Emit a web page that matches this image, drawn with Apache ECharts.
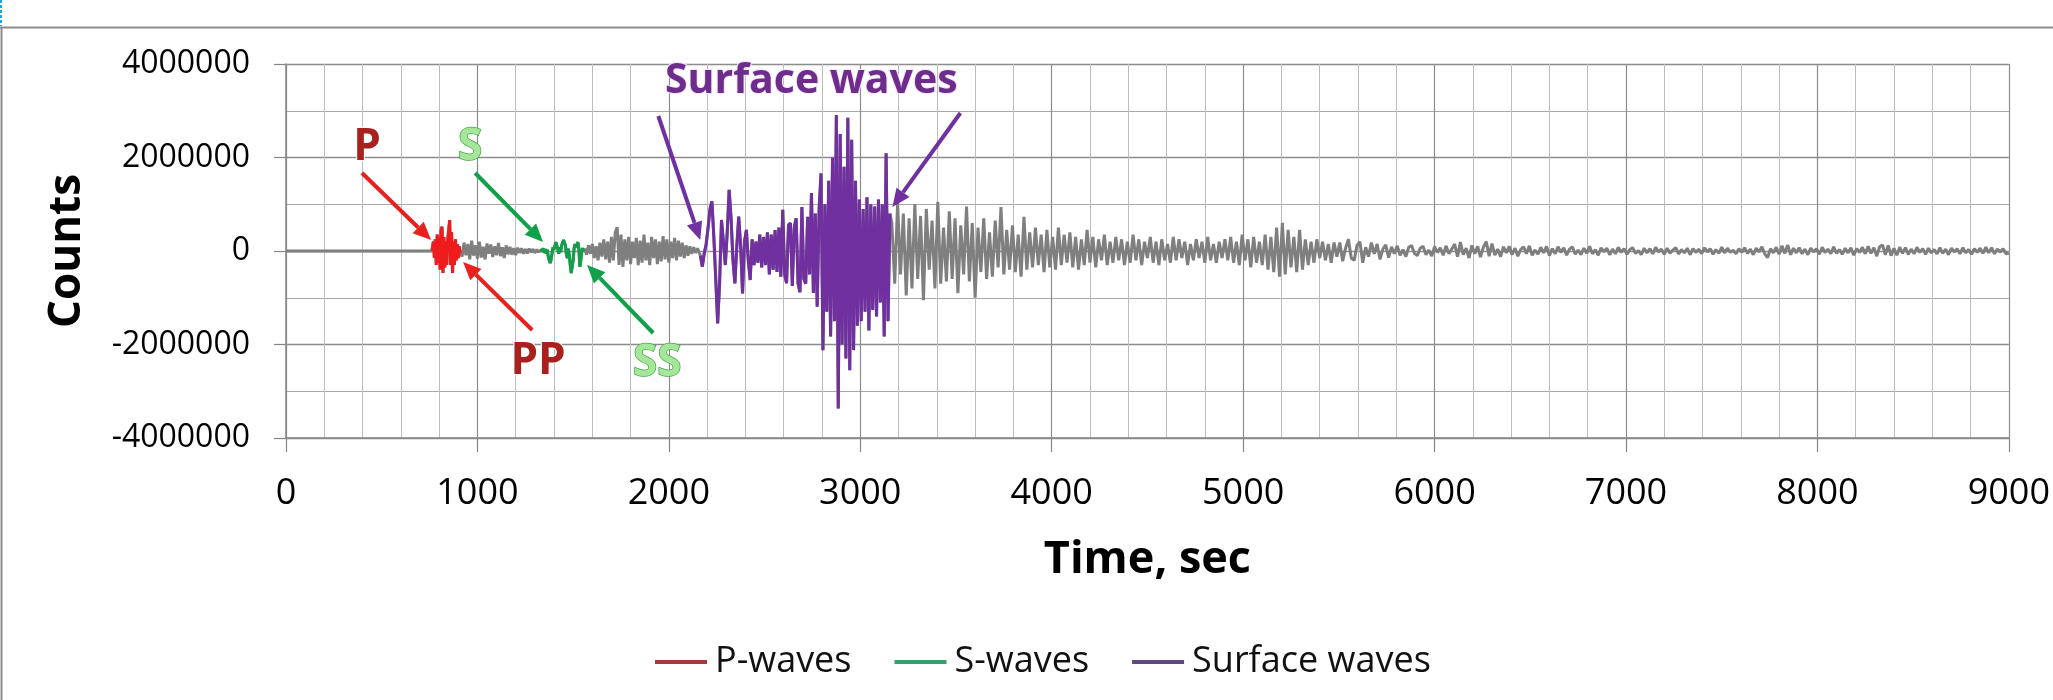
<!DOCTYPE html>
<html><head><meta charset="utf-8">
<script src="https://cdn.jsdelivr.net/npm/echarts@6/dist/echarts.min.js"></script>
<style>html,body{margin:0;padding:0;background:#fff}#chart{width:2053px;height:700px}</style>
</head><body><div id="chart"></div>
<script>
// ---------- axis ----------
const xAxisMin = 0, xAxisMax = 9000, xAxisInterval = 1000;
const yAxisMin = -4000000, yAxisMax = 4000000, yAxisInterval = 2000000;

// ---------- seismogram samples (time in s: start + i*step, value in counts) ----------
const preEventStart = 0, preEventStep = 760;
const preEventCounts = [0, 0];

const pWaveStart = 765, pWaveStep = 5;
const pWaveCounts = [0, 200000, -150000, 250000, -300000, 350000, -250000, 300000, -400000, 450000,
  520000, -470000, 300000, -350000, 200000, -300000, 250000, 450000, 660000, -300000,
  400000, -470000, 200000, -300000, 250000, -200000, 150000, -150000, 100000, -50000];

const gapPSStart = 920, gapPSStep = 10;
const gapPSCounts = [-120000, 180000, -90000, 150000, -180000, 220000, -100000, 120000, -160000, 200000,
  -140000, 90000, -180000, 160000, -60000, 140000, -130000, 100000, -90000, 170000,
  -110000, 80000, -150000, 120000, -70000, 90000, -80000, 60000, -90000, 70000,
  -40000, 60000, -60000, 40000, -50000, 50000, -30000, 40000, -40000, 30000, -20000];

const sWaveStart = 1330, sWaveStep = 5;
const sWaveCounts = [0, 30000, -20000, 50000, -40000, 40000, -60000, 30000, -120000, -200000,
  -257000, -180000, -50000, 80000, 30000, 120000, 190000, 150000, 40000, -60000,
  80000, -20000, 120000, 180000, 235000, 200000, 120000, -80000, -150000, 50000,
  -100000, -300000, -470000, -430000, -200000, 60000, 150000, 80000, 120000, 190000,
  50000, -340000, -200000, -20000, 60000, 0];

const gapSSurfStart = 1560, gapSSurfStep = 10;
const gapSSurfCounts = [50000, -80000, 120000, -60000, 150000, -150000, 100000, -200000, 180000, -120000,
  250000, -180000, 200000, -250000, 300000, -200000, 400000, 510000, -300000, 350000,
  -340000, 250000, -200000, 300000, -280000, 200000, -150000, 280000, -300000, 220000,
  -250000, 350000, -200000, 180000, -300000, 300000, -150000, 250000, -280000, 200000,
  -220000, 320000, -180000, 250000, -250000, 200000, -150000, 280000, -200000, 220000,
  -120000, 180000, -150000, 120000, -100000, 100000, -60000, 80000, -40000, 60000, -50000];

const surfaceStart = 2165, surfaceStep = 10;
const surfaceCounts = [-100000, -335000, -50000, 150000, 500000, 900000, 1060000, 300000, -600000, -1550000,
  -700000, 664000, 200000, -300000, 400000, 1310000, 700000, -200000, -692000, 100000,
  735000, 100000, -906000, 200000, 450000, -200000, -621000, 250000, -300000, 200000,
  -250000, 350000, -350000, 300000, -300000, 400000, -500000, 350000, -400000, 450000,
  -450000, 500000, -550000, 880000, -500000, -690000, 550000, 600000, -750000, 500000,
  700000, -700000, -880000, 940000, -600000, -700000, 730000, -500000, 1240000, -900000,
  800000, -1190000, 900000, 1660000, -2120000, 1000000, -1300000, 1500000, -1830000, 2000000,
  -1500000, 2910000, -3370000, 2500000, -2000000, 1800000, -2300000, 2850000, -2550000, 2380000,
  -2120000, 1500000, -1600000, 1100000, -1500000, 900000, -1300000, 1150000, -1700000, 1000000,
  -1260000, 950000, -1400000, 1100000, -1100000, 1000000, -1830000, 2090000, -1500000, 800000];

const codaStart = 3165, codaStep = 15;
const codaCounts = [600000, -700000, 1030000, -500000, 800000, -950000, 700000, -800000, 1000000, -600000,
  750000, -1050000, 900000, -400000, 650000, -800000, 1050000, -700000, 500000, -650000,
  850000, -600000, 700000, -900000, 550000, -500000, 950000, -650000, 600000, -1000000,
  500000, -450000, 700000, -600000, 400000, -550000, 650000, -350000, 940000, -500000,
  450000, -400000, 550000, -450000, 350000, -550000, 730000, -400000, 400000, -350000,
  500000, -300000, 350000, -450000, 450000, -350000, 300000, -400000, 500000, -300000,
  350000, -250000, 400000, -350000, 300000, -400000, 250000, -300000, 450000, -250000,
  300000, -350000, 250000, -200000, 350000, -300000, 200000, -250000, 300000, -200000,
  250000, -300000, 200000, -250000, 350000, -200000, 250000, -300000, 200000, -150000,
  300000, -250000, 200000, -300000, 250000, -200000, 150000, -250000, 300000, -200000,
  250000, -150000, 200000, -300000, 150000, -200000, 250000, -150000, 200000, -250000,
  300000, -200000, 150000, -250000, 200000, -150000, 250000, -200000, 300000, -250000,
  200000, -300000, 350000, -200000, 250000, -350000, 300000, -250000, 200000, -300000,
  350000, -400000, 300000, -450000, 500000, -550000, 600000, -500000, 450000, -350000,
  300000, -450000, 450000, -400000, 250000, -300000, 200000, -250000, 250000, -150000,
  200000, -200000, 150000, -250000, 180000, -120000];

const tailStart = 5505, tailStep = 15;
const tailCounts = [180000, -220000, 60000, 250000, -150000, -200000, 120000, 200000, -250000, 80000,
  -120000, 180000, -60000, 150000, -180000, 40000, 130000, -140000, 90000, -60000,
  110000, -90000, 30000, -120000, 80000, 120000, -50000, -100000, 60000, 100000,
  -80000, 20000, -110000, 90000, -30000, 70000, -90000, 110000, -60000, 40000,
  150000, -120000, 190000, -80000, 60000, -150000, 120000, -60000, 100000, -130000,
  80000, 200000, -110000, 160000, -90000, 40000, -120000, 90000, -40000, 100000,
  -80000, 60000, -110000, 30000, 90000, -60000, 110000, -90000, 20000, -70000,
  80000, -40000, 100000, -100000, 50000, -60000, 90000, -30000, 70000, -90000,
  40000, 90000, -70000, 20000, -80000, 60000, -50000, 100000, -60000, 30000,
  -90000, 70000, -20000, 60000, -80000, 40000, -60000, 80000, -30000, 50000,
  -70000, 30000, 70000, -50000, 10000, -80000, 60000, -40000, 50000, -60000,
  80000, -20000, 40000, -70000, 60000, -50000, 20000, 70000, -60000, 30000,
  -40000, 60000, -80000, 50000, -30000, 40000, -60000, 70000, -20000, 50000,
  -70000, 30000, -50000, 80000, -40000, 60000, -30000, 20000, -60000, 50000,
  -30000, 70000, -50000, 40000, -80000, 60000, -20000, 90000, -60000, -140000,
  50000, -40000, 80000, -70000, 110000, -50000, 130000, -80000, 60000, -40000,
  70000, -60000, 40000, -80000, 60000, -20000, 50000, -70000, 80000, -30000,
  40000, -60000, 90000, -50000, 30000, -70000, 60000, -40000, 70000, -90000,
  50000, -30000, 80000, -60000, 100000, -50000, 70000, -110000, 90000, 130000,
  -80000, 120000, -100000, 60000, -90000, 80000, -50000, 70000, -70000, 40000,
  -60000, 80000, -30000, 50000, -70000, 60000, -40000, 30000, -60000, 70000,
  -50000, 40000, -80000, 60000, -20000, 50000, -60000, 70000, -40000, 30000,
  -70000, 50000, -30000, 60000, -50000, 80000, -40000, 70000, -60000, 40000,
  -20000, 50000, -60000, -50000];

// ---------- legend ----------
const seriesNames = ['P-waves', 'S-waves', 'Surface waves'];

// ---------- annotations (data coordinates: [time s, counts]) ----------
const annotationTexts = [
  { text: 'P', at: [423, 2225000], kind: 'p', size: 44 },
  { text: 'PP', at: [1317, -2353000], kind: 'p', size: 44 },
  { text: 'S', at: [962, 2225000], kind: 's', size: 44 },
  { text: 'SS', at: [1939, -2396000], kind: 's', size: 44 },
  { text: 'Surface waves', at: [2744, 3636000], kind: 'surf', size: 41 }
];
const annotationArrows = [
  { from: [397, 1668000], to: [758, 235000], kind: 'p' },
  { from: [1286, -1690000], to: [925, -235000], kind: 'p' },
  { from: [988, 1668000], to: [1343, 193000], kind: 's' },
  { from: [1918, -1754000], to: [1573, -299000], kind: 's' },
  { from: [1945, 2888000], to: [2164, 235000], kind: 'surf' },
  { from: [3523, 2952000], to: [3168, 941000], kind: 'surf' }
];

function samples(start, step, counts) {
  return counts.map((c, i) => [start + i * step, c]);
}
const pData = samples(pWaveStart, pWaveStep, pWaveCounts);
const sData = samples(sWaveStart, sWaveStep, sWaveCounts);
const surfData = samples(surfaceStart, surfaceStep, surfaceCounts);
const fullTrace = [].concat(
  samples(preEventStart, preEventStep, preEventCounts), pData,
  samples(gapPSStart, gapPSStep, gapPSCounts), sData,
  samples(gapSSurfStart, gapSSurfStep, gapSSurfCounts), surfData,
  samples(codaStart, codaStep, codaCounts),
  samples(tailStart, tailStep, tailCounts));

const FONT = '"Open Sans", "Noto Sans", sans-serif';
const chart = echarts.init(document.getElementById('chart'), null, { renderer: 'canvas' });

const option = {
  backgroundColor: '#ffffff',
  animation: false,
  grid: { left: 286, right: 44, top: 64, bottom: 262, containLabel: false },
  legend: {
    left: 650, top: 639,
    icon: 'rect', itemWidth: 52, itemHeight: 4, itemGap: 43,
    textStyle: { fontFamily: FONT, fontSize: 36, color: '#111', padding: [0, 0, 0, 3] },
    data: [
      { name: seriesNames[0], itemStyle: { color: '#A33B3B' } },
      { name: seriesNames[1], itemStyle: { color: '#3A9E70' } },
      { name: seriesNames[2], itemStyle: { color: '#5E4A80' } }
    ]
  },
  xAxis: {
    type: 'value', min: xAxisMin, max: xAxisMax, interval: xAxisInterval,
    name: 'Time, sec', nameLocation: 'middle', nameGap: 100,
    nameTextStyle: { fontFamily: FONT, fontSize: 45, fontWeight: 'bold', color: '#000' },
    axisLine: { onZero: false, lineStyle: { color: '#868686', width: 1.5 } },
    axisTick: { show: true, length: 14, lineStyle: { color: '#868686', width: 1.2 } },
    axisLabel: { margin: 38, fontFamily: FONT, fontSize: 36, color: '#000', formatter: v => String(v) },
    splitLine: { show: true, lineStyle: { color: '#8C8C8C', width: 1.2 } },
    minorTick: { show: false, splitNumber: 5 },
    minorSplitLine: { show: true, lineStyle: { color: '#BDBDBD', width: 1 } }
  },
  yAxis: {
    type: 'value', min: yAxisMin, max: yAxisMax, interval: yAxisInterval,
    name: 'Counts', nameLocation: 'middle', nameGap: 197, nameRotate: 90,
    nameTextStyle: { fontFamily: FONT, fontSize: 44, fontWeight: 'bold', color: '#000' },
    axisLine: { show: true, lineStyle: { color: '#868686', width: 1.5 } },
    axisTick: { show: true, length: 12, lineStyle: { color: '#868686', width: 1.2 } },
    axisLabel: { margin: 36, fontFamily: FONT, fontSize: 32, color: '#000', formatter: v => String(v) },
    splitLine: { show: true, lineStyle: { color: '#8C8C8C', width: 1.3 } },
    minorTick: { show: false, splitNumber: 2 },
    minorSplitLine: { show: true, lineStyle: { color: '#A8A8A8', width: 1.1 } }
  },
  series: [
    { name: 'trace', type: 'line', data: fullTrace, showSymbol: false, symbol: 'none',
      lineStyle: { color: '#7F7F7F', width: 3 }, z: 2, silent: true },
    { name: seriesNames[0], type: 'line', data: pData, showSymbol: false, symbol: 'none',
      itemStyle: { color: '#EE1C1C' }, lineStyle: { color: '#EE1C1C', width: 3 }, z: 3 },
    { name: seriesNames[1], type: 'line', data: sData, showSymbol: false, symbol: 'none',
      itemStyle: { color: '#10A04A' }, lineStyle: { color: '#10A04A', width: 3 }, z: 3 },
    { name: seriesNames[2], type: 'line', data: surfData, showSymbol: false, symbol: 'none',
      itemStyle: { color: '#7030A0' }, lineStyle: { color: '#7030A0', width: 3 }, z: 3 }
  ]
};
chart.setOption(option);

// ---------- annotations & frame ----------
const arrowColors = { p: '#E8211F', s: '#10A04A', surf: '#7030A0' };
const textStyles = {
  p: { fill: '#A8211F', stroke: '#FFFFFF', lineWidth: 2, shadowColor: 'rgba(0,0,0,0.45)', shadowBlur: 4, shadowOffsetX: 2, shadowOffsetY: 2 },
  s: { fill: '#A6E69A', stroke: '#45A845', lineWidth: 1.5, shadowColor: 'rgba(0,0,0,0.25)', shadowBlur: 3, shadowOffsetX: 1, shadowOffsetY: 1 },
  surf: { fill: '#6E2C8C', stroke: '#F2E6F8', lineWidth: 2, shadowColor: 'rgba(0,0,0,0.4)', shadowBlur: 4, shadowOffsetX: 2, shadowOffsetY: 2 }
};
const elements = [];
annotationArrows.forEach(a => {
  const p1 = chart.convertToPixel({ gridIndex: 0 }, a.from);
  const p2 = chart.convertToPixel({ gridIndex: 0 }, a.to);
  const dx = p2[0] - p1[0], dy = p2[1] - p1[1];
  const len = Math.hypot(dx, dy), ux = dx / len, uy = dy / len;
  const headL = 18, headW = 8;
  const bx = p2[0] - ux * headL, by = p2[1] - uy * headL;
  const nx = -uy, ny = ux;
  elements.push({ type: 'line', z: 20, shape: { x1: p1[0], y1: p1[1], x2: bx, y2: by },
    style: { stroke: arrowColors[a.kind], lineWidth: 4 } });
  elements.push({ type: 'polygon', z: 20,
    shape: { points: [[p2[0], p2[1]], [bx + nx * headW, by + ny * headW], [bx - nx * headW, by - ny * headW]] },
    style: { fill: arrowColors[a.kind] } });
});
annotationTexts.forEach(t => {
  const p = chart.convertToPixel({ gridIndex: 0 }, t.at);
  elements.push({ type: 'text', z: 21, x: p[0], y: p[1],
    style: Object.assign({ text: t.text, font: 'bold ' + t.size + 'px ' + FONT,
      textAlign: 'center', textVerticalAlign: 'middle', align: 'center', verticalAlign: 'middle' }, textStyles[t.kind]) });
});
// chart frame
elements.push({ type: 'line', z: 1, shape: { x1: 0, y1: 27.5, x2: 2053, y2: 27.5 }, style: { stroke: '#8C8C8C', lineWidth: 2 } });
elements.push({ type: 'line', z: 1, shape: { x1: 1.5, y1: 27, x2: 1.5, y2: 700 }, style: { stroke: '#8C8C8C', lineWidth: 2 } });
elements.push({ type: 'line', z: 1, shape: { x1: 1, y1: 0, x2: 1, y2: 26 }, style: { stroke: '#1AA3E8', lineWidth: 2, lineDash: [3, 2] } });
chart.setOption({ graphic: { elements: elements } });
</script>
</body></html>
